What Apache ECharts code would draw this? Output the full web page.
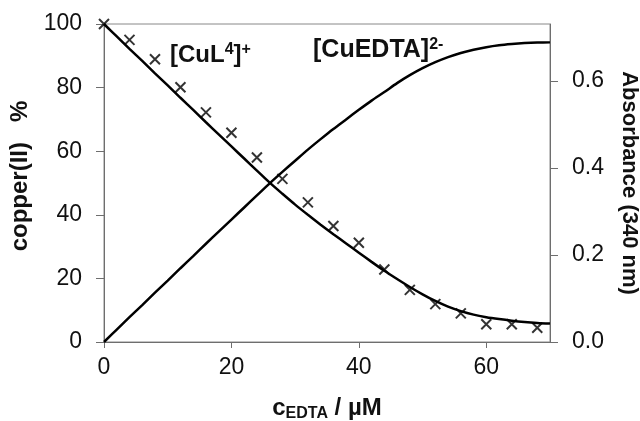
<!DOCTYPE html>
<html><head><meta charset="utf-8">
<script src="https://cdn.jsdelivr.net/npm/echarts@6/dist/echarts.min.js"></script>
<style>html,body{margin:0;padding:0;background:#fff}#c{width:640px;height:421px}</style>
</head><body><div id="c"></div>
<script>
// concentration of EDTA (µM) for the model curves
const curveX = [0,2,4,6,8,10,12,14,16,18,20,22,24,26,28,30,32,34,36,38,40,42,44,46,48,50,52,54,56,58,60,62,64,66,68,70];
// [CuL4]+ fraction (%)
const cuL = [100,96.1,92.2,88.4,84.5,80.7,76.8,73.0,69.1,65.3,61.5,57.7,53.9,50.1,46.6,43.2,40.0,36.9,33.9,31.0,28.1,25.2,22.4,19.8,17.3,15.0,12.9,11.1,9.7,8.6,7.8,7.2,6.7,6.3,6.0,5.8];
// [CuEDTA]2- fraction (%)
const cuEDTA = [0,3.9,7.8,11.6,15.5,19.3,23.2,27.0,30.9,34.7,38.5,42.3,46.1,49.9,53.5,57.0,60.5,63.8,67.0,70.0,73.0,75.9,78.6,81.4,83.9,86.1,88.0,89.6,90.9,91.9,92.7,93.3,93.7,94.0,94.2,94.3];
// measured points (× markers)
const measX = [0,4,8,12,16,20,24,28,32,36,40,44,48,52,56,60,64,68];
const measY = [100,95.0,88.9,80.1,72.2,65.8,58.0,51.3,43.9,36.5,31.2,22.8,16.4,11.9,9.0,5.6,5.6,4.5];
// tick values
const xTicks = [0,20,40,60];
const yTicks = [0,20,40,60,80,100];
const absTicks = [0,0.2,0.4,0.6];
const absMax = 0.731;

const zip = (a,b) => a.map((v,i)=>[v,b[i]]);
const chart = echarts.init(document.getElementById('c'), null, {renderer:'canvas'});
const F = 'Liberation Sans, Arial, sans-serif';
const axisCol = '#6e6e6e';
chart.setOption({
  animation:false,
  grid:{left:104,right:90,top:24,bottom:79,show:true,borderColor:'#888',borderWidth:1,containLabel:false,outerBoundsMode:'none'},
  xAxis:{type:'value',min:0,max:70,interval:20,
    axisLine:{show:true,lineStyle:{color:axisCol,width:1}},
    axisTick:{show:true,inside:false,length:6,customValues:xTicks,lineStyle:{color:axisCol}},
    axisLabel:{customValues:xTicks,margin:14,fontFamily:F,fontSize:23,color:'#111'},
    splitLine:{show:false},
    name:'{a|c}{s|EDTA}{a| / µM}',nameLocation:'middle',nameGap:52,
    nameTextStyle:{rich:{a:{fontFamily:F,fontSize:24,fontWeight:'bold',color:'#111'},s:{fontFamily:F,fontSize:16,fontWeight:'bold',color:'#111',verticalAlign:'bottom',padding:[12,0,0,0]}}}
  },
  yAxis:[{type:'value',min:0,max:100,interval:20,position:'left',
    axisLine:{show:true,lineStyle:{color:axisCol,width:1}},
    axisTick:{show:true,length:8,customValues:yTicks,lineStyle:{color:axisCol}},
    axisLabel:{customValues:yTicks,margin:22,fontFamily:F,fontSize:23,color:'#111'},
    splitLine:{show:false},
    name:'copper(II)   %',nameLocation:'middle',nameGap:64,nameRotate:90,
    nameTextStyle:{fontFamily:F,fontSize:24,fontWeight:'bold',color:'#111',padding:[0,0,0,14]}
  },{type:'value',min:0,max:absMax,position:'right',
    axisLine:{show:true,lineStyle:{color:axisCol,width:1}},
    axisTick:{show:true,length:8,customValues:absTicks,lineStyle:{color:axisCol}},
    axisLabel:{customValues:absTicks,margin:22,fontFamily:F,fontSize:23,color:'#111',formatter:v=>v.toFixed(1)},
    splitLine:{show:false},
    name:'Absorbance (340 nm)',nameLocation:'middle',nameGap:68,nameRotate:-90,
    nameTextStyle:{fontFamily:F,fontSize:22,fontWeight:'bold',color:'#111'}
  }],
  series:[
    {type:'line',data:zip(curveX,cuL),showSymbol:false,smooth:0.3,lineStyle:{color:'#000',width:2.5},z:3},
    {type:'line',data:zip(curveX,cuEDTA),showSymbol:false,smooth:0.3,lineStyle:{color:'#000',width:2.5},z:3},
    {type:'scatter',data:zip(measX,measY),symbol:'path://M0,0L10,10M10,0L0,10',symbolSize:10,
      itemStyle:{color:'none',borderColor:'#000',borderWidth:2},z:4}
  ],
  graphic:[
    {type:'text',left:170,top:42,style:{text:'{a|[CuL}{s|4}{a|]}{s|+}',rich:{a:{fontFamily:F,fontSize:24,fontWeight:'bold',fill:'#111'},s:{fontFamily:F,fontSize:16,fontWeight:'bold',fill:'#111',verticalAlign:'top',padding:[0,0,10,0]}}}},
    {type:'text',left:313,top:37,style:{text:'{a|[CuEDTA]}{s|2-}',rich:{a:{fontFamily:F,fontSize:25,fontWeight:'bold',fill:'#111'},s:{fontFamily:F,fontSize:16,fontWeight:'bold',fill:'#111',verticalAlign:'top',padding:[0,0,10,0]}}}}
  ]
});
</script></body></html>
